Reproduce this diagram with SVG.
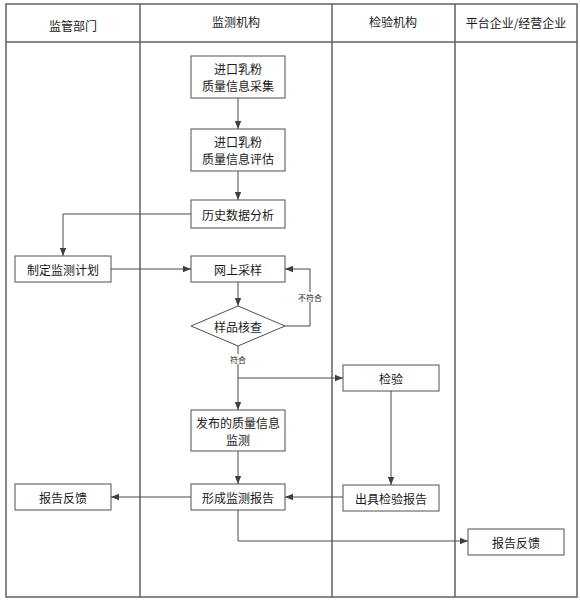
<svg xmlns="http://www.w3.org/2000/svg" width="580" height="602" viewBox="0 0 580 602">
<style>
.frame{fill:none;stroke:#606060;stroke-width:1.5}
.box{fill:#fff;stroke:#505050;stroke-width:1}
.t{font-family:"Noto Sans CJK SC","Noto Sans",sans-serif;font-size:12px;fill:#1a1a1a;text-anchor:middle;dominant-baseline:central}
.s{font-family:"Noto Sans CJK SC","Noto Sans",sans-serif;font-size:8px;fill:#1a1a1a;text-anchor:middle;dominant-baseline:central}
.c{fill:none;stroke:#4a4a4a;stroke-width:1}
</style>
<defs>
<marker id="ah" viewBox="0 0 8 8" refX="8" refY="4" markerWidth="8" markerHeight="8" markerUnits="userSpaceOnUse" orient="auto">
<path d="M0,0.8 L8,4 L0,7.2 Z" fill="#404040"/>
</marker>
</defs>
<rect width="580" height="602" fill="#fff"/>
<g id="lanes">
<rect class="frame" x="6" y="4" width="571" height="593"/>
<line class="frame" x1="6" y1="42" x2="577" y2="42"/>
<line class="frame" x1="140" y1="4" x2="140" y2="597"/>
<line class="frame" x1="332" y1="4" x2="332" y2="597"/>
<line class="frame" x1="455" y1="4" x2="455" y2="597"/>
<text class="t" x="73" y="25">监管部门</text>
<text class="t" x="236" y="21">监测机构</text>
<text class="t" x="393" y="21">检验机构</text>
<text class="t" x="516" y="22">平台企业/经营企业</text>
</g>
<g id="connectors">
<path class="c" d="M238,98 V129" marker-end="url(#ah)"/>
<path class="c" d="M238,171 V200" marker-end="url(#ah)"/>
<path class="c" d="M191,214 H63 V256" marker-end="url(#ah)"/>
<path class="c" d="M111,269 H191" marker-end="url(#ah)"/>
<path class="c" d="M238,282 V306" marker-end="url(#ah)"/>
<path class="c" d="M285,326 H310 V269 H285" marker-end="url(#ah)"/>
<path class="c" d="M238,346 V410" marker-end="url(#ah)"/>
<path class="c" d="M238,378 H343" marker-end="url(#ah)"/>
<path class="c" d="M391,391 V485" marker-end="url(#ah)"/>
<path class="c" d="M238,451 V484" marker-end="url(#ah)"/>
<path class="c" d="M343,497 H285" marker-end="url(#ah)"/>
<path class="c" d="M191,497 H111" marker-end="url(#ah)"/>
<path class="c" d="M238,510 V541 H468" marker-end="url(#ah)"/>
<rect x="299" y="292" width="22" height="10" fill="#fff"/>
<text class="s" x="310" y="297">不符合</text>
<rect x="229" y="354" width="18" height="10" fill="#fff"/>
<text class="s" x="238" y="359">符合</text>
</g>
<g id="n1"><rect class="box" x="191" y="56" width="94" height="42"/><text class="t" x="238" y="68">进口乳粉</text><text class="t" x="238" y="85">质量信息采集</text></g>
<g id="n2"><rect class="box" x="191" y="129" width="94" height="42"/><text class="t" x="238" y="141">进口乳粉</text><text class="t" x="238" y="158">质量信息评估</text></g>
<g id="n3"><rect class="box" x="191" y="200" width="94" height="28"/><text class="t" x="238" y="214">历史数据分析</text></g>
<g id="n4"><rect class="box" x="15" y="256" width="96" height="26"/><text class="t" x="63" y="269">制定监测计划</text></g>
<g id="n5"><rect class="box" x="191" y="256" width="94" height="26"/><text class="t" x="238" y="269">网上采样</text></g>
<g id="n6"><path class="box" d="M238,306 L285,326 L238,346 L191,326 Z"/><text class="t" x="238" y="326">样品核查</text></g>
<g id="n7"><rect class="box" x="343" y="365" width="96" height="26"/><text class="t" x="391" y="378">检验</text></g>
<g id="n8"><rect class="box" x="191" y="410" width="94" height="41"/><text class="t" x="238" y="422">发布的质量信息</text><text class="t" x="238" y="439">监测</text></g>
<g id="n9"><rect class="box" x="15" y="484" width="96" height="26"/><text class="t" x="63" y="497">报告反馈</text></g>
<g id="n10"><rect class="box" x="191" y="484" width="94" height="26"/><text class="t" x="238" y="497">形成监测报告</text></g>
<g id="n11"><rect class="box" x="343" y="485" width="96" height="26"/><text class="t" x="391" y="498">出具检验报告</text></g>
<g id="n12"><rect class="box" x="468" y="529" width="96" height="26"/><text class="t" x="516" y="542">报告反馈</text></g>
</svg>
